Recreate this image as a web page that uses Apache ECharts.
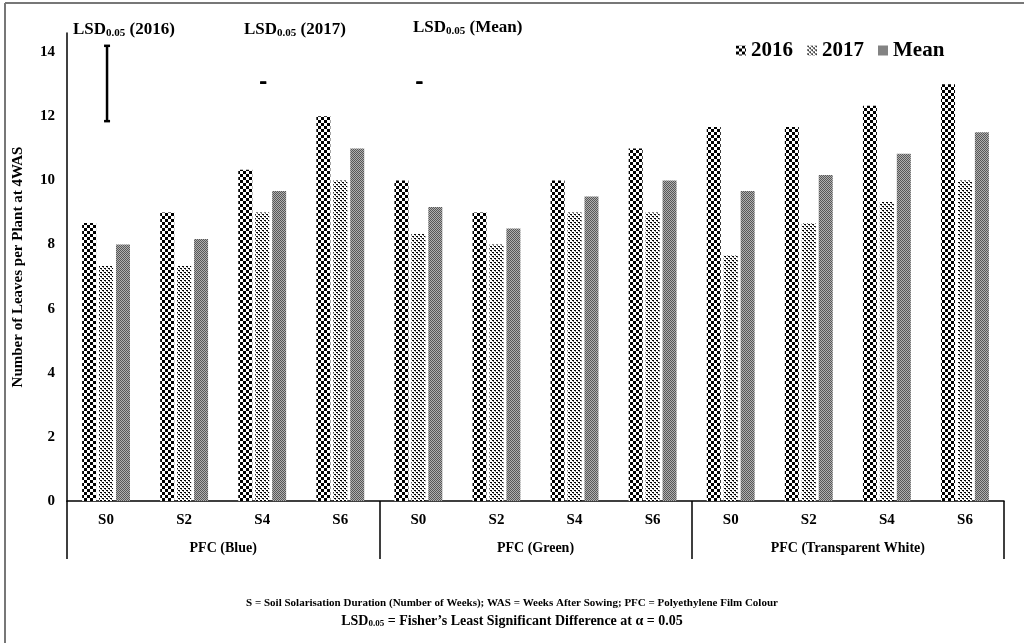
<!DOCTYPE html>
<html>
<head>
<meta charset="UTF-8">
<title>Leaves per plant</title>
<script type="text/javascript" src="https://cdn.jsdelivr.net/npm/echarts@6/dist/echarts.min.js"></script>
</head>
<body style="margin:0;background:#fff;">
<div id="main" style="width:1024px;height:643px;"></div>

<script type="text/javascript">
var FONT = '"Liberation Serif", "Times New Roman", serif';

// data
var durations = ['S0', 'S2', 'S4', 'S6', 'S0', 'S2', 'S4', 'S6', 'S0', 'S2', 'S4', 'S6'];
var filmColours = ['PFC (Blue)', 'PFC (Green)', 'PFC (Transparent White)'];
var y2016 = [8.67, 9.0, 10.33, 12.0, 10.0, 9.0, 10.0, 11.0, 11.67, 11.67, 12.33, 13.0];
var y2017 = [7.33, 7.33, 9.0, 10.0, 8.33, 8.0, 9.0, 9.0, 7.67, 8.67, 9.33, 10.0];
var yMean = [8.0, 8.17, 9.67, 11.0, 9.17, 8.5, 9.5, 10.0, 9.67, 10.17, 10.83, 11.5];
// LSD bars: [category index, low, high]
var lsdBars = [[0, 11.85, 14.2], [2, 13.05, 13.05], [4, 13.05, 13.05]];
var yTicks = [0, 2, 4, 6, 8, 10, 12, 14];

// fill patterns
function pattern(size, draw) {
  var c = document.createElement('canvas');
  c.width = size; c.height = size;
  var ctx = c.getContext('2d');
  ctx.fillStyle = '#fff';
  ctx.fillRect(0, 0, size, size);
  draw(ctx);
  return { image: c, repeat: 'repeat' };
}
var checker = pattern(6, function (ctx) {
  ctx.fillStyle = '#000';
  ctx.fillRect(0, 0, 3, 3);
  ctx.fillRect(3, 3, 3, 3);
});
var dots = pattern(4, function (ctx) {
  ctx.fillStyle = '#000';
  ctx.fillRect(0, 0, 1, 1);
  ctx.fillRect(1, 0, 1, 1);
  ctx.fillRect(2, 2, 1, 1);
  ctx.fillRect(3, 2, 1, 1);
  ctx.fillStyle = '#777';
  ctx.fillRect(1, 1, 1, 1);
  ctx.fillRect(3, 3, 1, 1);
});
var grey = pattern(2, function (ctx) {
  ctx.fillStyle = '#b0b0b0';
  ctx.fillRect(0, 0, 2, 2);
  ctx.fillStyle = '#575757';
  ctx.fillRect(0, 0, 1, 1);
  ctx.fillRect(1, 1, 1, 1);
});

var mychart = echarts.init(document.getElementById('main'));

var lsdRich = {
  b: { fontFamily: FONT, fontWeight: 'bold', fontSize: 17, color: '#000' },
  s: { fontFamily: FONT, fontWeight: 'bold', fontSize: 11, color: '#000', padding: [8, 0, 0, 0] }
};
function lsdText(x, y, what) {
  return {
    type: 'text', left: x, top: y,
    style: { text: '{b|LSD}{s|0.05}{b| (' + what + ')}', rich: lsdRich }
  };
}

var barCommon = { type: 'bar', barWidth: 14, barGap: '21%', xAxisIndex: 0 };

var option = {
  animation: false,
  textStyle: { fontFamily: FONT },
  grid: { left: 67, right: 20, top: 33, bottom: 142, outerBoundsMode: 'none' },
  legend: {
    left: 731, top: 35,
    itemWidth: 10, itemHeight: 10, itemGap: 14,
    icon: 'rect',
    textStyle: { fontFamily: FONT, fontWeight: 'bold', fontSize: 21, color: '#000' },
    data: ['2016', '2017', 'Mean']
  },
  xAxis: [{
    type: 'category', data: durations,
    axisLine: { lineStyle: { color: '#000', width: 1.5 } },
    axisTick: { show: false },
    axisLabel: { color: '#000', fontFamily: FONT, fontWeight: 'bold', fontSize: 15, margin: 12 }
  }, {
    type: 'category', data: filmColours, position: 'bottom', offset: 0,
    axisLine: { show: false },
    axisTick: { show: true, length: 58, lineStyle: { color: '#000', width: 1.5 } },
    axisLabel: { color: '#000', fontFamily: FONT, fontWeight: 'bold', fontSize: 14, margin: 40 }
  }],
  yAxis: {
    type: 'value', min: 0, max: 14.6, interval: 2,
    name: 'Number of Leaves per Plant at 4WAS',
    nameLocation: 'middle', nameGap: 41, nameRotate: 90,
    nameTextStyle: { color: '#000', fontFamily: FONT, fontWeight: 'bold', fontSize: 15 },
    splitLine: { show: false },
    axisTick: { show: false },
    axisLine: { show: true, lineStyle: { color: '#000', width: 1.5 } },
    axisLabel: {
      color: '#000', fontFamily: FONT, fontWeight: 'bold', fontSize: 15, margin: 12,
      formatter: function (v) { return yTicks.indexOf(v) >= 0 ? v : ''; }
    }
  },
  series: [
    Object.assign({ name: '2016', data: y2016, itemStyle: { color: checker } }, barCommon),
    Object.assign({ name: '2017', data: y2017, itemStyle: { color: dots } }, barCommon),
    Object.assign({ name: 'Mean', data: yMean, itemStyle: { color: grey } }, barCommon),
    {
      type: 'custom', name: 'LSD', xAxisIndex: 0, data: lsdBars,
      renderItem: function (params, api) {
        var lo = api.coord([api.value(0), api.value(1)]);
        var hi = api.coord([api.value(0), api.value(2)]);
        var x = lo[0] + 1, w = 3;
        var style = { stroke: '#000', lineWidth: 2.5 };
        return {
          type: 'group', children: [
            { type: 'line', shape: { x1: x, y1: lo[1], x2: x, y2: hi[1] }, style: style },
            { type: 'line', shape: { x1: x - w, y1: lo[1], x2: x + w, y2: lo[1] }, style: style },
            { type: 'line', shape: { x1: x - w, y1: hi[1], x2: x + w, y2: hi[1] }, style: style }
          ]
        };
      }
    }
  ],
  graphic: [
    { type: 'line', shape: { x1: 5, y1: 3, x2: 1024, y2: 3 }, style: { stroke: '#777', lineWidth: 2 } },
    { type: 'line', shape: { x1: 5, y1: 3, x2: 5, y2: 643 }, style: { stroke: '#777', lineWidth: 2 } },
    lsdText(73, 21, '2016'),
    lsdText(244, 21, '2017'),
    lsdText(413, 19, 'Mean'),
    {
      type: 'text', left: 'center', top: 598,
      style: {
        text: 'S = Soil Solarisation Duration (Number of Weeks); WAS = Weeks After Sowing; PFC = Polyethylene Film Colour',
        fontFamily: FONT, fontWeight: 'bold', fontSize: 11, fill: '#000'
      }
    },
    {
      type: 'text', left: 'center', top: 614,
      style: {
        text: '{b|LSD}{s|0.05}{b| = Fisher\u2019s Least Significant Difference at \u03b1 = 0.05}',
        rich: {
          b: { fontFamily: FONT, fontWeight: 'bold', fontSize: 14, color: '#000' },
          s: { fontFamily: FONT, fontWeight: 'bold', fontSize: 9, color: '#000', padding: [6, 0, 0, 0] }
        }
      }
    }
  ]
};

mychart.setOption(option);
</script>
</body>
</html>
